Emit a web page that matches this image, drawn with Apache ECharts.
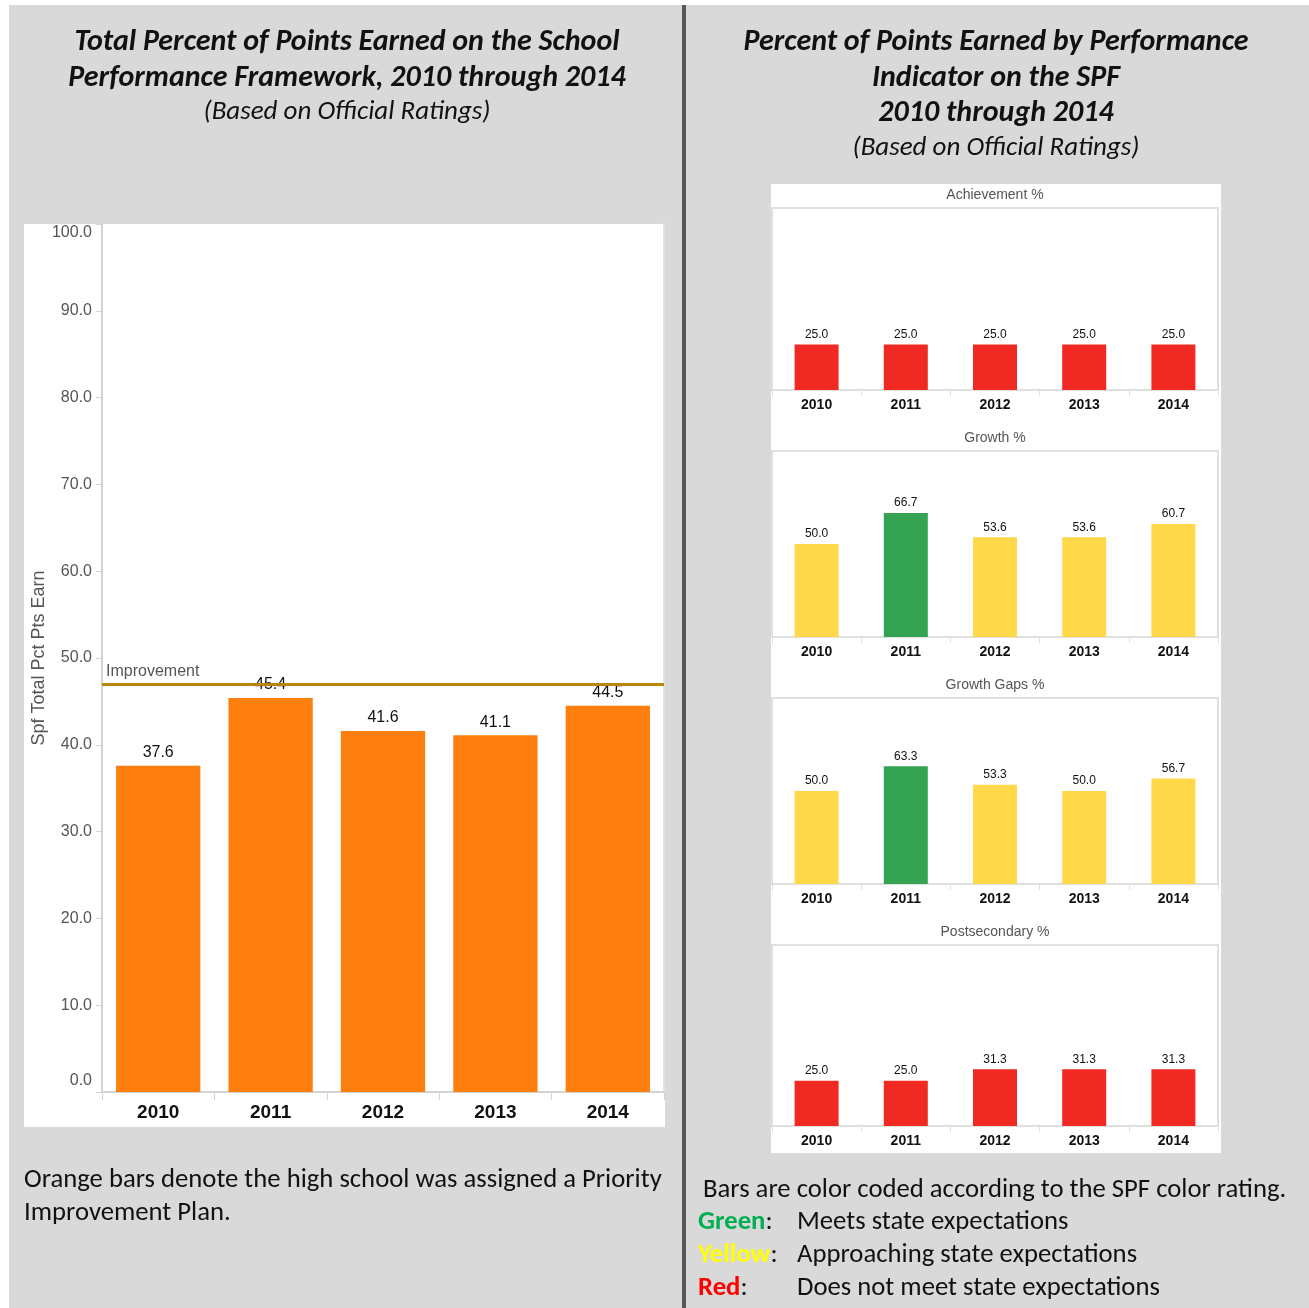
<!DOCTYPE html>
<html lang="en">
<head>
<meta charset="UTF-8">
<title>SPF points earned</title>
<script src="https://cdn.jsdelivr.net/npm/echarts@6/dist/echarts.min.js"></script>
<style>
    html, body { margin: 0; padding: 0; background: #fff; }
    #main { width: 1309px; height: 1308px; }
</style>
</head>
<body>
<div id="main"></div>
<script>
    // data
    var years = ['2010', '2011', '2012', '2013', '2014'];
    var totalPct = [37.6, 45.4, 41.6, 41.1, 44.5];
    var improvementCut = 47.0;

    var panelNames = ['Achievement %', 'Growth %', 'Growth Gaps %', 'Postsecondary %'];
    var achievement = [25.0, 25.0, 25.0, 25.0, 25.0];
    var growth = [50.0, 66.7, 53.6, 53.6, 60.7];
    var growthGaps = [50.0, 63.3, 53.3, 50.0, 56.7];
    var postsecondary = [25.0, 25.0, 31.3, 31.3, 31.3];
    var achievementRating = ['R', 'R', 'R', 'R', 'R'];
    var growthRating = ['Y', 'G', 'Y', 'Y', 'Y'];
    var growthGapsRating = ['Y', 'G', 'Y', 'Y', 'Y'];
    var postsecondaryRating = ['R', 'R', 'R', 'R', 'R'];

    var panelValues = [achievement, growth, growthGaps, postsecondary];
    var panelRatings = [achievementRating, growthRating, growthGapsRating, postsecondaryRating];
    var ratingColor = { R: '#f02a22', Y: '#ffd94a', G: '#34a352' };

    var bodyFont = 'Carlito, Lato, sans-serif';
    var chartFont = '"Liberation Sans", Arial, sans-serif';

    // layout of the small panels on the right
    var panelTops = [208, 451, 698, 945];
    var panelHeights = [182, 186, 186, 181];

    var chart = echarts.init(document.getElementById('main'));

    var grids = [{ left: 102, top: 224, width: 562, height: 868 }];
    var xAxes = [{
        type: 'category', gridIndex: 0, data: years,
        axisLine: { lineStyle: { color: '#d4d4d4', width: 2 } },
        axisTick: { show: true, length: 8, lineStyle: { color: '#d4d4d4' } },
        axisLabel: { color: '#111', fontSize: 19, fontWeight: 'bold', margin: 11, fontFamily: chartFont }
    }];
    var yAxes = [{
        type: 'value', gridIndex: 0, min: 0, max: 100, interval: 10,
        name: 'Spf Total Pct Pts Earn', nameLocation: 'middle', nameGap: 53,
        nameTextStyle: { color: '#555', fontSize: 18, fontFamily: chartFont },
        axisLine: { show: true, lineStyle: { color: '#d4d4d4', width: 2 } },
        axisTick: { show: true, length: 6, lineStyle: { color: '#d4d4d4' } },
        splitLine: { show: false },
        axisLabel: {
            color: '#555', fontSize: 16, margin: 10, fontFamily: chartFont,
            // end labels are kept inside the plot like the original
            formatter: function (v) {
                if (v === 100) return '{top|' + v.toFixed(1) + '}';
                if (v === 0) return '{bot|' + v.toFixed(1) + '}';
                return v.toFixed(1);
            },
            rich: {
                top: { fontSize: 16, color: '#555', fontFamily: chartFont, padding: [18, 0, 0, 0] },
                bot: { fontSize: 16, color: '#555', fontFamily: chartFont, padding: [0, 0, 22, 0] }
            }
        }
    }, {
        type: 'value', gridIndex: 0, min: 0, max: 100, position: 'right',
        axisLine: { show: true, lineStyle: { color: '#e3e3e3', width: 2 } },
        axisTick: { show: false }, axisLabel: { show: false }, splitLine: { show: false }
    }];
    var series = [{
        type: 'bar', xAxisIndex: 0, yAxisIndex: 0, data: totalPct, barWidth: '75%',
        itemStyle: { color: '#ff7f0e' },
        label: {
            show: true, position: 'top', distance: 5, color: '#111', fontSize: 16, fontFamily: chartFont,
            formatter: function (p) { return p.value.toFixed(1); }
        },
        markLine: {
            silent: true, symbol: 'none',
            lineStyle: { color: '#b8860b', width: 3, type: 'solid' },
            label: {
                show: true, position: 'insideStartTop', formatter: 'Improvement',
                color: '#555', fontSize: 16, fontFamily: chartFont, distance: [4, 4]
            },
            data: [{ yAxis: improvementCut }]
        }
    }];
    var titles = [];

    panelNames.forEach(function (name, i) {
        var g = i + 1;
        grids.push({
            left: 772, top: panelTops[i], width: 446, height: panelHeights[i],
            show: true, borderColor: '#e0e0e0', borderWidth: 2, backgroundColor: 'transparent'
        });
        xAxes.push({
            type: 'category', gridIndex: g, data: years,
            axisLine: { lineStyle: { color: '#e0e0e0', width: 2 } },
            axisTick: { show: true, length: 6, lineStyle: { color: '#e0e0e0' } },
            axisLabel: { color: '#111', fontSize: 14, fontWeight: 'bold', margin: 8, fontFamily: chartFont }
        });
        yAxes.push({
            type: 'value', gridIndex: g, min: 0, max: 100, show: false
        });
        series.push({
            type: 'bar', xAxisIndex: g, yAxisIndex: g + 1, barWidth: 44,
            data: panelValues[i].map(function (v, k) {
                return { value: v, itemStyle: { color: ratingColor[panelRatings[i][k]] } };
            }),
            label: {
                show: true, position: 'top', distance: 4, color: '#111', fontSize: 12, fontFamily: chartFont,
                formatter: function (p) { return p.value.toFixed(1); }
            }
        });
        titles.push({
            text: name, left: 995, top: panelTops[i] - 20, textAlign: 'center', padding: 0,
            textStyle: { color: '#555', fontSize: 14, fontWeight: 'normal', fontFamily: chartFont }
        });
    });

    function txt(x, y, s, opt) {
        var st = { x: x, y: y, text: s, fill: '#111', font: opt.font, textAlign: opt.align || 'left', textVerticalAlign: 'middle' };
        if (opt.rich) st.rich = opt.rich;
        return { type: 'text', z: 10, style: st };
    }

    var titleFont = 'italic bold 30px ' + bodyFont;
    var subFont = 'italic 27px ' + bodyFont;
    var noteFont = '26.7px ' + bodyFont;
    var keyFont = 'bold 26.7px ' + bodyFont;

    var graphics = [
        { type: 'rect', z: -10, shape: { x: 9, y: 5, width: 1300, height: 1303 }, style: { fill: '#d9d9d9' } },
        { type: 'rect', z: -10, shape: { x: 682, y: 5, width: 4, height: 1303 }, style: { fill: '#595959' } },
        { type: 'rect', z: -9, shape: { x: 24, y: 224, width: 641, height: 903 }, style: { fill: '#fff' } },
        { type: 'rect', z: -9, shape: { x: 771, y: 184, width: 450, height: 969 }, style: { fill: '#fff' } },

        txt(347, 42, 'Total Percent of Points Earned on the School', { font: titleFont, align: 'center' }),
        txt(347, 78, 'Performance Framework, 2010 through 2014', { font: titleFont, align: 'center' }),
        txt(347, 112, '(Based on Official Ratings)', { font: subFont, align: 'center' }),

        txt(996, 42, 'Percent of Points Earned by Performance', { font: titleFont, align: 'center' }),
        txt(996, 78, 'Indicator on the SPF', { font: titleFont, align: 'center' }),
        txt(996, 113, '2010 through 2014', { font: titleFont, align: 'center' }),
        txt(996, 148, '(Based on Official Ratings)', { font: subFont, align: 'center' }),

        txt(24, 1180, 'Orange bars denote the high school was assigned a Priority', { font: noteFont }),
        txt(24, 1213, 'Improvement Plan.', { font: noteFont }),

        txt(703, 1190, 'Bars are color coded according to the SPF color rating.', { font: noteFont }),
        txt(698, 1222, '{c|Green}:', { font: noteFont, rich: { c: { fill: '#00b050', font: keyFont } } }),
        txt(797, 1222, 'Meets state expectations', { font: noteFont }),
        txt(698, 1255, '{c|Yellow}:', { font: noteFont, rich: { c: { fill: '#ffff00', font: keyFont } } }),
        txt(797, 1255, 'Approaching state expectations', { font: noteFont }),
        txt(698, 1288, '{c|Red}:', { font: noteFont, rich: { c: { fill: '#ff0000', font: keyFont } } }),
        txt(797, 1288, 'Does not meet state expectations', { font: noteFont })
    ];

    chart.setOption({
        animation: false,
        backgroundColor: '#fff',
        title: titles,
        grid: grids,
        xAxis: xAxes,
        yAxis: yAxes,
        series: series,
        graphic: graphics
    });
</script>
</body>
</html>
